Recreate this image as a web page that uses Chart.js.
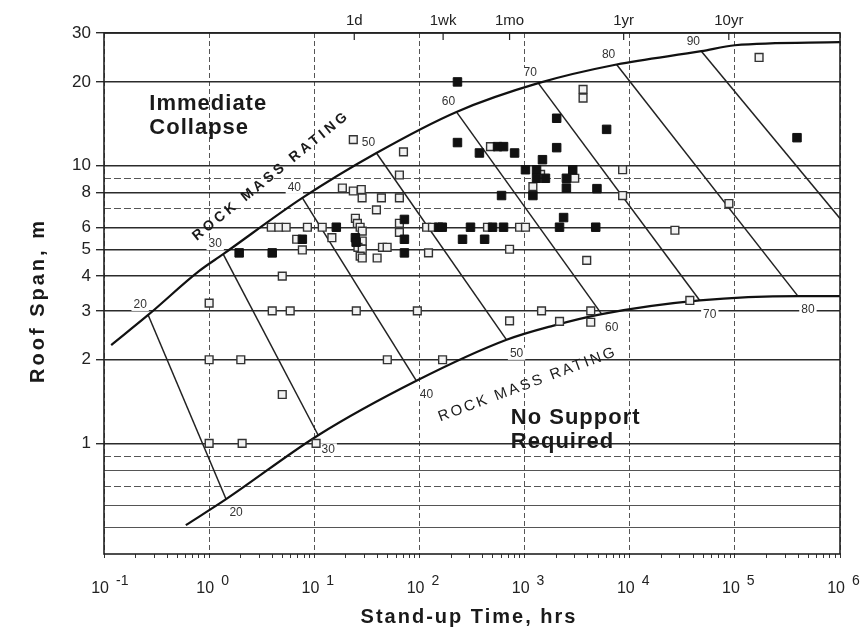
<!DOCTYPE html>
<html>
<head>
<meta charset="utf-8">
<script src="https://cdn.jsdelivr.net/npm/chart.js@4.4.1/dist/chart.umd.min.js"></script>
<style>
  html, body { margin: 0; padding: 0; background: #fff; }
  #wrap { width: 860px; height: 630px; }
</style>
</head>
<body>
<div id="wrap"><canvas id="rmrChart"></canvas></div>
<script>
const FONT = "'Liberation Sans', Arial, sans-serif";

// case histories: stand-up time (hrs) and roof span (m)
const openTime = [1, 1, 1, 2.0, 2.06, 3.9, 4.6, 5.4, 6.8, 7.7, 4.96, 3.98, 5.9, 4.96, 8.6, 11.9, 14.7, 10.4,
  18.5, 23.5, 23.5, 28, 28.5, 24.6, 25.7, 27.3, 28.6, 28.6, 26, 28.6, 27.3, 28.6, 25.1, 43.5, 39, 39.6,
  44.5, 49.3, 49.5, 64.5, 64.5, 70.5, 64.5, 64.5, 95.5, 117, 133, 122, 166, 444, 474, 720, 720, 896,
  1020, 1200, 1420, 1450, 2150, 3000, 3600, 3600, 3900, 4260, 4260, 8560, 8560, 26900, 37300, 87800, 170000];
const openSpan = [3.2, 2, 1, 2, 1, 6, 6, 6, 5.43, 4.97, 4, 3, 3, 1.5, 6, 6, 5.5, 1,
  8.3, 12.4, 8.1, 8.2, 7.65, 6.46, 6.19, 6.0, 5.81, 5.35, 5.08, 5.0, 4.72, 4.65, 3, 7.65, 6.93, 4.65,
  5.08, 5.08, 2, 7.65, 9.25, 11.2, 6.2, 5.75, 3, 6, 6, 4.85, 2, 6, 11.7, 5, 2.76, 6,
  6, 8.4, 9.3, 3, 2.75, 9, 18.8, 17.5, 4.56, 3, 2.73, 9.66, 7.8, 5.85, 3.27, 7.3, 24.5];

const filledTime = [1.93, 3.98, 7.7, 16.2, 24.6, 25, 72, 72, 72, 152, 165, 230, 230, 257, 306, 372, 417,
  496, 553, 631, 604, 631, 804, 1020, 1200, 1300, 1300, 1480, 1580, 2020, 2020, 2150, 2350, 2500, 2500,
  2870, 4750, 4880, 6030, 390000];
const filledSpan = [4.85, 4.85, 5.43, 6.0, 5.5, 5.3, 6.4, 5.43, 4.85, 6.0, 6.0, 20, 12.1, 5.43, 6.0, 11.1, 5.43,
  6.0, 11.7, 11.7, 7.8, 6.0, 11.1, 9.66, 7.8, 9.66, 9.0, 10.5, 9.0, 14.8, 11.6, 6.0, 6.5, 9.0, 8.3,
  9.66, 6.0, 8.26, 13.5, 12.6];

// boundary curves
const upperTime = [0.117, 0.263, 0.8, 1.36, 7.7, 39, 225, 1350, 7500, 48000, 100000, 1000000];
const upperSpan = [2.26, 2.9, 4.17, 4.8, 7.65, 11.1, 15.6, 19.8, 23.1, 25.8, 27.1, 27.8];
const lowerTime = [0.6, 1.45, 10.9, 93.6, 674, 1850, 5410, 46400, 398000, 1000000];
const lowerSpan = [0.508, 0.63, 1.07, 1.68, 2.36, 2.65, 2.92, 3.27, 3.39, 3.39];

// rock mass rating lines, upper curve -> lower curve
const rmrValues = [20, 30, 40, 50, 60, 70, 80, 90];
const rmrTopTime = [0.263, 1.36, 7.7, 39, 225, 1350, 7500, 48000];
const rmrTopSpan = [2.9, 4.8, 7.65, 11.1, 15.6, 19.8, 23.1, 25.8];
const rmrEndTime = [1.45, 10.9, 93.6, 674, 5410, 46400, 398000, 1000000];
const rmrEndSpan = [0.63, 1.07, 1.68, 2.36, 2.92, 3.27, 3.39, 6.45];

// axes
const spanGrid = [0.5, 0.6, 0.7, 0.8, 0.9, 1, 2, 3, 4, 5, 6, 7, 8, 9, 10, 20, 30];
const spanLabels = [1, 2, 3, 4, 5, 6, 8, 10, 20, 30];
const timeDecades = [0.1, 1, 10, 100, 1000, 10000, 100000, 1000000];
const topTickHours = [24, 168, 720, 8760, 87600];
const topTickLabels = ["1d", "1wk", "1mo", "1yr", "10yr"];

// text placed in data coordinates
const notes = [
  { text: "Immediate", t: 0.27, s: 15.9 },
  { text: "Collapse", t: 0.27, s: 13.0 },
  { text: "No Support", t: 740, s: 1.17 },
  { text: "Required", t: 740, s: 0.966 },
];
const bandNotes = [
  { text: "ROCK MASS RATING", t: 3.9, s: 9.19, angle: -39, font: "bold 14px ", gap: "3.5px" },
  { text: "ROCK MASS RATING", t: 1070, s: 1.63, angle: -20.5, font: "15px ", gap: "2.5px" },
];
const dashedSpans = [0.7, 0.9, 7, 9];

const pts = (xs, ys) => xs.map((x, i) => ({ x, y: ys[i] }));
const isDecade = (v) => Math.abs(Math.log10(v) - Math.round(Math.log10(v))) < 1e-6;
const minorTicks = timeDecades.flatMap((d) =>
  d === timeDecades[timeDecades.length - 1] ? [d] : [1, 2, 3, 4, 5, 6, 7, 8, 9].map((m) => m * d)
);

const datasets = [
  {
    label: "filled",
    data: pts(filledTime, filledSpan),
    pointStyle: "rect",
    pointRadius: 6,
    backgroundColor: "#111",
    borderColor: "#111",
    borderWidth: 1,
    order: 0,
  },
  {
    label: "open",
    data: pts(openTime, openSpan),
    pointStyle: "rect",
    pointRadius: 5.5,
    backgroundColor: "#f2f2f2",
    borderColor: "#333",
    borderWidth: 1.4,
    order: 0,
  },
  {
    label: "upper",
    data: pts(upperTime, upperSpan),
    showLine: true,
    pointRadius: 0,
    borderColor: "#111",
    borderWidth: 2.2,
    cubicInterpolationMode: "monotone",
    order: 1,
  },
  {
    label: "lower",
    data: pts(lowerTime, lowerSpan),
    showLine: true,
    pointRadius: 0,
    borderColor: "#111",
    borderWidth: 2.2,
    cubicInterpolationMode: "monotone",
    order: 1,
  },
  ...rmrValues.map((r, i) => ({
    label: "RMR " + r,
    data: [
      { x: rmrTopTime[i], y: rmrTopSpan[i] },
      { x: rmrEndTime[i], y: rmrEndSpan[i] },
    ],
    showLine: true,
    pointRadius: 0,
    borderColor: "#222",
    borderWidth: 1.5,
    order: 1,
  })),
];

const overlay = {
  id: "overlay",
  beforeDraw(chart) {
    const { ctx, width, height } = chart;
    ctx.save();
    ctx.fillStyle = "#fff";
    ctx.fillRect(0, 0, width, height);
    ctx.restore();
  },
  beforeDatasetsDraw(chart) {
    // rating numbers sit on white patches that break the grid lines
    const { ctx, scales: { x, y } } = chart;
    ctx.save();
    ctx.font = "12px " + FONT;
    ctx.textAlign = "center";
    ctx.textBaseline = "middle";
    const tag = (txt, X, Y) => {
      const w = ctx.measureText(txt).width;
      ctx.fillStyle = "#fff";
      ctx.fillRect(X - w / 2 - 2, Y - 6, w + 4, 12);
      ctx.fillStyle = "#333";
      ctx.fillText(txt, X, Y);
    };
    rmrValues.forEach((r, i) => {
      tag(String(r), x.getPixelForValue(rmrTopTime[i]) - 8, y.getPixelForValue(rmrTopSpan[i]) - 10);
      if (rmrEndTime[i] < x.max)
        tag(String(r), x.getPixelForValue(rmrEndTime[i]) + 10, y.getPixelForValue(rmrEndSpan[i]) + 14);
    });
    ctx.restore();
  },
  afterDatasetsDraw(chart) {
    const { ctx, chartArea: a, scales: { x, y, x2 } } = chart;
    ctx.save();

    // frame
    ctx.strokeStyle = "#222";
    ctx.lineWidth = 1.6;
    ctx.strokeRect(a.left, a.top, a.right - a.left, a.bottom - a.top);

    // top axis: inward ticks and time labels
    ctx.lineWidth = 1.2;
    ctx.beginPath();
    topTickHours.forEach((h) => {
      const X = x2.getPixelForValue(h);
      ctx.moveTo(X, a.top);
      ctx.lineTo(X, a.top + 7);
    });
    ctx.stroke();
    ctx.fillStyle = "#222";
    ctx.font = "15px " + FONT;
    ctx.textAlign = "center";
    ctx.textBaseline = "alphabetic";
    topTickHours.forEach((h, i) => ctx.fillText(topTickLabels[i], x2.getPixelForValue(h), a.top - 8));

    // bottom tick labels, 10 with a raised exponent
    timeDecades.forEach((d) => {
      const X = x.getPixelForValue(d);
      ctx.font = "16px " + FONT;
      ctx.textAlign = "right";
      ctx.fillText("10", X + 5, a.bottom + 39);
      ctx.font = "14px " + FONT;
      ctx.textAlign = "left";
      ctx.fillText(String(Math.round(Math.log10(d))), X + 12, a.bottom + 31);
    });

    // region notes
    ctx.fillStyle = "#1a1a1a";
    ctx.font = "bold 22px " + FONT;
    ctx.letterSpacing = "1px";
    ctx.textAlign = "left";
    notes.forEach((n) => ctx.fillText(n.text, x.getPixelForValue(n.t), y.getPixelForValue(n.s)));

    bandNotes.forEach((n) => {
      ctx.save();
      ctx.translate(x.getPixelForValue(n.t), y.getPixelForValue(n.s));
      ctx.rotate((n.angle * Math.PI) / 180);
      ctx.font = n.font + FONT;
      ctx.letterSpacing = n.gap;
      ctx.textAlign = "center";
      ctx.textBaseline = "middle";
      ctx.fillText(n.text, 0, 0);
      ctx.restore();
    });

    // axis titles
    ctx.font = "bold 20px " + FONT;
    ctx.textAlign = "center";
    ctx.letterSpacing = "2px";
    ctx.fillText("Stand-up Time, hrs", (a.left + a.right) / 2 - 3, a.bottom + 69);
    ctx.save();
    ctx.translate(38, (a.top + a.bottom) / 2 + 7);
    ctx.rotate(-Math.PI / 2);
    ctx.letterSpacing = "3px";
    ctx.textBaseline = "middle";
    ctx.fillText("Roof Span, m", 0, 0);
    ctx.restore();

    ctx.restore();
  },
};

const chart = new Chart(document.getElementById("rmrChart"), {
  type: "scatter",
  data: { datasets },
  options: {
    responsive: true,
    maintainAspectRatio: false,
    animation: false,
    events: [],
    layout: { padding: { left: 0, right: 20, top: 0, bottom: 0 } },
    plugins: { legend: { display: false }, tooltip: { enabled: false } },
    scales: {
      x: {
        type: "logarithmic",
        position: "bottom",
        min: 0.1,
        max: 1000000,
        afterBuildTicks: (s) => { s.ticks = minorTicks.map((v) => ({ value: v })); },
        afterFit: (s) => { s.height = 76; },
        ticks: { display: false, autoSkip: false },
        grid: {
          color: (c) => (c.tick && isDecade(c.tick.value) ? "#555" : "rgba(0,0,0,0)"),
          lineWidth: 1,
          tickColor: "#333",
          tickLength: 4,
        },
        border: { display: false, dash: [5, 3] },
      },
      x2: {
        type: "logarithmic",
        axis: "x",
        position: "top",
        min: 0.1,
        max: 1000000,
        afterBuildTicks: (s) => { s.ticks = topTickHours.map((v) => ({ value: v })); },
        afterFit: (s) => { s.height = 33; },
        ticks: { display: false, autoSkip: false },
        grid: { display: false },
        border: { display: false },
      },
      y: {
        type: "logarithmic",
        min: 0.4,
        max: 30,
        afterBuildTicks: (s) => { s.ticks = spanGrid.map((v) => ({ value: v })); },
        afterFit: (s) => { s.width = 104; },
        ticks: {
          autoSkip: false,
          padding: 5,
          color: "#222",
          font: { size: 17, family: FONT },
          callback: (v) => (spanLabels.includes(v) ? String(v) : ""),
        },
        grid: {
          color: (c) => (c.tick && spanLabels.includes(c.tick.value) ? "#2b2b2b" : "#555"),
          lineWidth: (c) => (c.tick && spanLabels.includes(c.tick.value) ? 1.4 : 1.1),
          tickColor: (c) => (c.tick && spanLabels.includes(c.tick.value) ? "#2b2b2b" : "rgba(0,0,0,0)"),
          tickLength: 8,
        },
        border: {
          display: false,
          dash: (c) => (c.tick && dashedSpans.includes(c.tick.value) ? [7, 3] : []),
        },
      },
    },
  },
  plugins: [overlay],
});
</script>
</body>
</html>
